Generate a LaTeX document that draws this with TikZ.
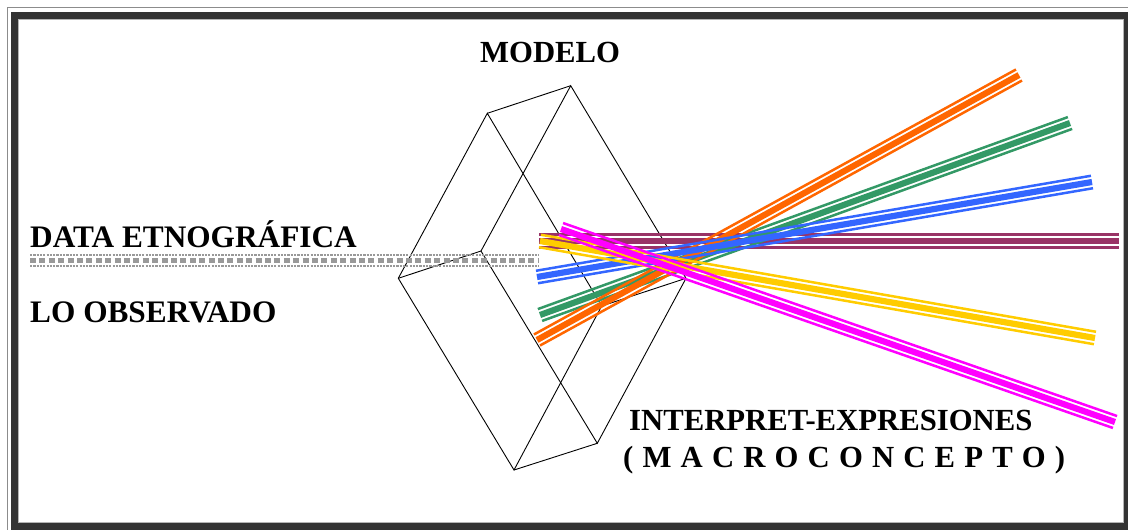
\documentclass[tikz,border=0pt]{standalone}
\usepackage{fontspec}
\setmainfont{Liberation Serif}
\usetikzlibrary{calc}
\definecolor{framedark}{HTML}{333333}
\definecolor{framegrey}{HTML}{8C8C8C}
\definecolor{framelight}{HTML}{B4B4B4}
\definecolor{feedgrey}{HTML}{999999}
\definecolor{beammaroon}{HTML}{993366}
\definecolor{beamorange}{HTML}{FF6600}
\definecolor{beamgreen}{HTML}{339966}
\definecolor{beamblue}{HTML}{3366FF}
\definecolor{beamyellow}{HTML}{FFCC00}
\definecolor{beammagenta}{HTML}{FF00FF}
% a ray of light: thin / thick / thin strands between two named points
\newcommand\lightray[3]{%
  \draw[raythin,#1] ($(#2)!6.3pt!90:(#3)$) -- ($(#3)!6.3pt!-90:(#2)$);
  \draw[raythick,#1] (#2) -- (#3);
  \draw[raythin,#1] ($(#2)!6.3pt!-90:(#3)$) -- ($(#3)!6.3pt!90:(#2)$);
}
\begin{document}
\begin{tikzpicture}[x=1pt,y=-1pt,
  title/.style={font=\fontsize{30.7}{36}\selectfont\bfseries, inner sep=0pt, anchor=base west},
  sidetitle/.style={title, font=\fontsize{31.3}{36}\selectfont\bfseries},
  prismedge/.style={line width=0.9pt, black},
  raythin/.style={line width=2.5pt},
  raythick/.style={line width=6.2pt},
  feedthin/.style={feedgrey, line width=2.3pt, dash pattern=on 2.2pt off 1.1pt},
  feedthick/.style={feedgrey, line width=5.6pt, dash pattern=on 6pt off 3.4pt}]
\useasboundingbox (0,0) rectangle (1128,530);
\clip (0,0) rectangle (1128,530);

% border
\draw[framegrey, line width=1pt] (7,7) rectangle (1140,540);
\draw[framedark, line width=6.6pt] (14.2,15.3) rectangle (1127.3,526.6);
\draw[framelight, line width=1.4pt] (18.2,19.2) rectangle (1123.2,522.6);

% prism corners
\coordinate (bt) at (570.7,85.7);
\coordinate (ft) at (487.3,113.3);
\coordinate (fl) at (398.3,278.3);
\coordinate (bl) at (481,251);
\coordinate (fb) at (514,470);
\coordinate (bb) at (597.3,443.3);
\coordinate (br) at (686,278.3);
\coordinate (fr) at (601.7,306);

% prism
\draw[prismedge] (ft) -- (fl) -- (fb) -- (fr) -- cycle;
\draw[prismedge] (bt) -- (bl) -- (bb) -- (br) -- cycle;
\draw[prismedge] (bt) -- (ft);
\draw[prismedge] (bl) -- (fl);
\draw[prismedge] (bb) -- (fb);
\draw[prismedge] (br) -- (fr);

% incoming data stream
\coordinate (feedA) at (30,260.5);
\coordinate (feedB) at (539,260.5);
\draw[feedthin] ($(feedA)+(0,-5.6)$) -- ($(feedB)+(0,-5.6)$);
\draw[feedthick] (feedA) -- (feedB);
\draw[feedthin] ($(feedA)+(0,5.6)$) -- ($(feedB)+(0,5.6)$);

% outgoing rays
\coordinate (m1) at (539,241);   \coordinate (m2) at (1119,241);
\coordinate (g1) at (540,315);   \coordinate (g2) at (1070,123);
\coordinate (o1) at (537,340);   \coordinate (o2) at (1019,75);
\coordinate (u1) at (537,277);   \coordinate (u2) at (1092,182);
\coordinate (y1) at (540,241);   \coordinate (y2) at (1095,338);
\coordinate (p1) at (561,229);   \coordinate (p2) at (1115,422);
\lightray{beammaroon}{m1}{m2}
\lightray{beamgreen}{g1}{g2}
\lightray{beamorange}{o1}{o2}
\lightray{beamblue}{u1}{u2}
\lightray{beamyellow}{y1}{y2}
\lightray{beammagenta}{p1}{p2}

% labels
\node[title] (modelo) at (480,62) {MODELO};
\node[sidetitle] (data) at (30,247) {DATA ETNOGRÁFICA};
\node[sidetitle] (obs) at (30,322) {LO OBSERVADO};
\node[title] (interp) at (629,430) {INTERPRET-EXPRESIONES};
\node[title] (macro) at (623,467) {\makebox[442pt][s]{( M A C R O C O N C E P T O )}};
\end{tikzpicture}
\end{document}
